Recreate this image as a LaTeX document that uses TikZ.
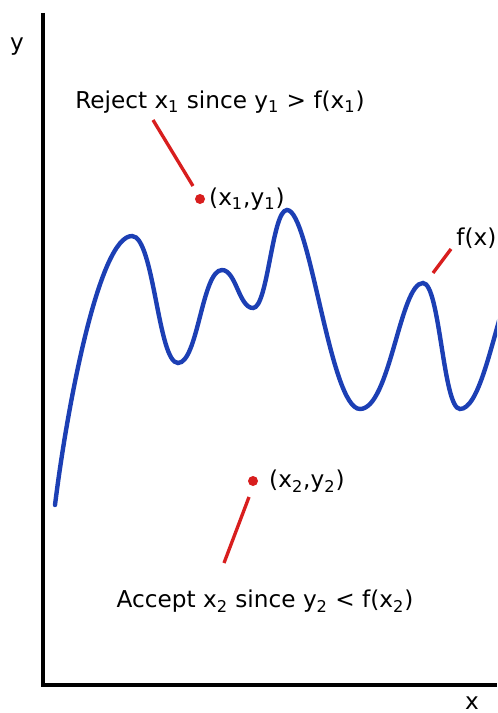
\documentclass[tikz,border=0pt]{standalone}
\usepackage{fontspec}
\setmainfont{DejaVu Sans}
\usetikzlibrary{positioning}
\definecolor{curveblue}{HTML}{1C3FB4}
\definecolor{markred}{HTML}{D81E1E}

\begin{document}
\begin{tikzpicture}[x=0.02cm, y=-0.02cm,
    lbl/.style={font=\fontsize{13.2}{15}\selectfont, inner sep=0pt},
    leader/.style={markred, line width=1.9pt},
    sample/.style={circle, fill=markred, inner sep=0pt, minimum size=0.2cm}]
\useasboundingbox (0,0) rectangle (497,713);

% axes
\coordinate (ytop) at (43,13);
\coordinate (origin) at (43,685);
\coordinate (xend) at (497,685);
\draw[line width=2.3pt] (ytop) -- (origin) -- (xend);
\node[lbl] (ylab) at (17,47) {y};
\node[lbl] (xlab) at (472,703) {x};

% f(x)
\begin{scope}
\clip (0,0) rectangle (497,713);
\draw[curveblue, line width=2.5pt, line cap=round]
    (55,505) .. controls (68,400) and (100,236) .. (132,236)
    .. controls (154,236) and (158,363) .. (178,363)
    .. controls (198,363) and (202,270) .. (222,270)
    .. controls (236,270) and (239,308) .. (253,308)
    .. controls (268,308) and (272,210) .. (287,210)
    .. controls (310,210) and (330,409) .. (360,409)
    .. controls (390,409) and (400,283) .. (423,283)
    .. controls (440,283) and (443,409) .. (460,409)
    .. controls (478,409) and (490,350) .. (505,300);
\end{scope}
\node[lbl, anchor=west] (flab) at (456,238) {f(x)};
\coordinate (f-a) at (451,249);
\coordinate (f-b) at (433,273);
\draw[leader] (f-a) -- (f-b);

% rejected sample
\node[sample] (p1) at (200,199) {};
\node[lbl, right=2pt of p1] (p1lab) {(x\textsubscript{1},y\textsubscript{1})};
\node[lbl] (rejtext) at (220,102) {Reject x\textsubscript{1} since y\textsubscript{1} > f(x\textsubscript{1})};
\coordinate (rej-a) at (153,120);
\coordinate (rej-b) at (193,186);
\draw[leader] (rej-a) -- (rej-b);

% accepted sample
\node[sample] (p2) at (253,481) {};
\node[lbl, right=6pt of p2] (p2lab) {(x\textsubscript{2},y\textsubscript{2})};
\node[lbl] (acctext) at (265,601) {Accept x\textsubscript{2} since y\textsubscript{2} < f(x\textsubscript{2})};
\coordinate (acc-a) at (249,497);
\coordinate (acc-b) at (224,563);
\draw[leader] (acc-a) -- (acc-b);
\end{tikzpicture}
\end{document}
